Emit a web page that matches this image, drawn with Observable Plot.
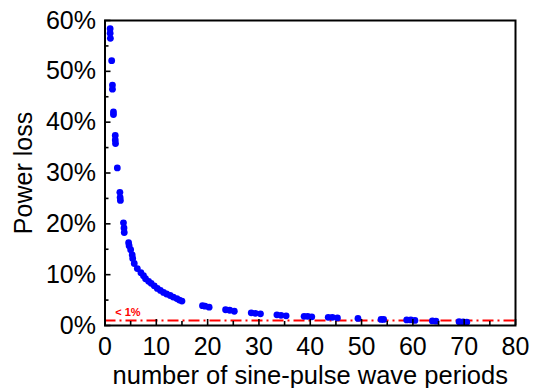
<!DOCTYPE html>
<html>
<head>
<meta charset="utf-8">
<script src="https://cdn.jsdelivr.net/npm/d3@7"></script>
<script src="https://cdn.jsdelivr.net/npm/@observablehq/plot@0.6"></script>
<style>
  html, body { margin: 0; padding: 0; background: #fff; }
  #chart svg { display: block; font-family: "Liberation Sans", Arial, sans-serif; }
</style>
</head>
<body>
<div id="chart"></div>
<script>
// Number of sine-pulse wave periods
const periods = [
  1.0, 1.0, 1.05, 1.3, 1.45, 1.45, 1.65, 1.65, 2.0, 2.0, 2.05, 2.4, 2.9, 2.95, 3.0,
  3.6, 3.7, 3.75, 4.6, 4.7, 5.0, 5.3, 5.4, 5.7, 6.3, 7.0, 7.5, 7.9, 8.5, 9.0, 9.6,
  10.2, 10.8, 11.4, 12.0, 12.7, 13.3, 14.0, 14.5, 15.0,
  19.0, 19.5, 20.3, 23.5, 24.3, 25.2, 28.5, 29.3, 30.3, 33.5, 34.3, 35.3,
  38.8, 39.5, 40.3, 43.5, 44.3, 45.3, 49.3, 53.8, 54.3, 58.8, 59.6, 60.4,
  63.8, 64.5, 69.0, 69.8, 70.5
];
// Power loss (%)
const powerLoss = [
  58.4, 57.5, 56.5, 52.1, 47.3, 46.5, 42.0, 41.5, 37.4, 36.5, 35.8, 31.0, 26.2, 25.2, 24.6,
  20.2, 19.2, 18.3, 16.3, 15.7, 14.9, 13.9, 13.2, 12.2, 11.2, 10.4, 9.8, 9.2, 8.7, 8.3, 7.8,
  7.3, 6.9, 6.5, 6.2, 5.9, 5.6, 5.3, 5.0, 4.8,
  3.9, 3.8, 3.6, 3.1, 3.0, 2.8, 2.5, 2.4, 2.3, 2.1, 2.0, 1.9,
  1.8, 1.8, 1.7, 1.6, 1.6, 1.5, 1.4, 1.2, 1.2, 1.1, 1.1, 1.0,
  0.9, 0.85, 0.75, 0.7, 0.65
];
const thresholdValue = [1];
const thresholdLabel = ["< 1%"];
const xMajorTicks = [0, 10, 20, 30, 40, 50, 60, 70, 80];
const xMinorTicks = [5, 15, 25, 35, 45, 55, 65, 75];
const yMajorTicks = [0, 10, 20, 30, 40, 50, 60];
const yMinorTicks = [5, 15, 25, 35, 45, 55];
const xLabel = "number of sine-pulse wave periods";
const yLabel = "Power loss";

const data = periods.map((p, i) => ({p, loss: powerLoss[i]}));

const W = 536, H = 388;
const mL = 104.5, mR = 21, mT = 20, mB = 63;
const plotW = W - mL - mR, plotH = H - mT - mB;

const chart = Plot.plot({
  width: W,
  height: H,
  marginLeft: mL,
  marginRight: mR,
  marginTop: mT,
  marginBottom: mB,
  style: {fontFamily: '"Liberation Sans", Arial, sans-serif', background: "white", color: "black"},
  x: {domain: [0, 80]},
  y: {domain: [0, 60]},
  marks: [
    Plot.ruleY(thresholdValue, {stroke: "#ff0000", strokeWidth: 2, strokeDasharray: "11,4,2,4"}),
    Plot.text(thresholdLabel, {x: 2, y: 1.9, text: d => d, textAnchor: "start", lineAnchor: "bottom",
      fill: "#ff0000", fontSize: 11, fontWeight: "bold"}),
    Plot.dot(data, {x: "p", y: "loss", r: 3.4, fill: "#0000ff", stroke: "none"}),
    // inward ticks
    Plot.tickX(xMajorTicks, {x: d => d, insetTop: plotH - 6, stroke: "black", strokeWidth: 1.6}),
    Plot.tickX(xMinorTicks, {x: d => d, insetTop: plotH - 4, stroke: "black", strokeWidth: 1.6}),
    Plot.tickY(yMajorTicks, {y: d => d, insetRight: plotW - 6, stroke: "black", strokeWidth: 1.6}),
    Plot.tickY(yMinorTicks, {y: d => d, insetRight: plotW - 4, stroke: "black", strokeWidth: 1.6}),
    Plot.axisX({ticks: xMajorTicks, tickSize: 0, tickPadding: 12, fontSize: 25, label: null}),
    Plot.axisY({ticks: yMajorTicks, tickSize: 0, tickPadding: 9, fontSize: 25, label: null, tickFormat: d => d + "%"}),
    Plot.text([xLabel], {frameAnchor: "bottom", text: d => d, dy: 58, lineAnchor: "bottom", fontSize: 25.5, fill: "black"}),
    Plot.text([yLabel], {frameAnchor: "left", text: d => d, dx: -81, rotate: -90, textAnchor: "middle", lineAnchor: "middle", fontSize: 25, fill: "black"}),
    Plot.frame({stroke: "black", strokeWidth: 2})
  ]
});
document.getElementById("chart").appendChild(chart);
</script>
</body>
</html>
